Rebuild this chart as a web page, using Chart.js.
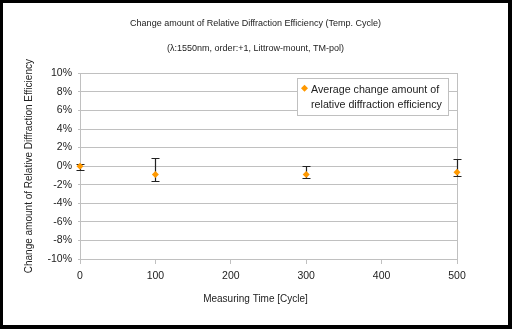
<!DOCTYPE html>
<html>
<head>
<meta charset="utf-8">
<script src="https://cdn.jsdelivr.net/npm/chart.js@4.4.1/dist/chart.umd.min.js"></script>
<style>
  html, body { margin: 0; padding: 0; background: #fff; }
  #frame { width: 505px; height: 322px; border-style: solid; border-color: #000; border-width: 3px 4px 4px 3px; }
  canvas { display: block; }
</style>
</head>
<body>
<div id="frame"><canvas id="cycle-chart" width="505" height="322"></canvas></div>
<script>
const fontFamily = "'Liberation Sans', Arial, sans-serif";
const textColor = '#222';
const gridColor = '#c0c0c0';
const markerColor = '#ff9900';

const titleLines = ['Change amount of Relative Diffraction Efficiency (Temp. Cycle)', '(\u03bb:1550nm, order:+1, Littrow-mount, TM-pol)'];
const xTitle = 'Measuring Time [Cycle]';
const yTitle = 'Change amount of Relative Diffraction Efficiency';
const legendLines = ['Average change amount of', 'relative diffraction efficiency'];

// measuring time in cycles, values in %
const cycles = [0, 100, 300, 500];
const avgChange = [0.0, -0.9, -0.9, -0.65];
const errTop = [0.2, 0.9, 0.0, 0.8];
const errBottom = [-0.4, -1.6, -1.3, -1.1];

// error bars go under the markers
const errorBars = {
  id: 'errorBars',
  beforeDatasetsDraw(chart) {
    const {ctx, scales: {x, y}} = chart;
    ctx.save();
    ctx.strokeStyle = '#222';
    ctx.lineWidth = 1.2;
    cycles.forEach((c, i) => {
      const px = Math.round(x.getPixelForValue(c)) + 0.5;
      const top = Math.round(y.getPixelForValue(errTop[i])) + 0.5;
      const bot = Math.round(y.getPixelForValue(errBottom[i])) + 0.5;
      ctx.beginPath();
      ctx.moveTo(px, top); ctx.lineTo(px, bot);
      ctx.moveTo(px - 4, top); ctx.lineTo(px + 4, top);
      ctx.moveTo(px - 4, bot); ctx.lineTo(px + 4, bot);
      ctx.stroke();
    });
    ctx.restore();
  }
};

// boxed legend inside the plot, top right
const boxLegend = {
  id: 'boxLegend',
  afterDraw(chart) {
    const {ctx, chartArea} = chart;
    const w = 151, h = 37;
    const left = Math.round(chartArea.right - 9 - w) + 0.5;
    const top = Math.round(chartArea.top + 5) + 0.5;
    ctx.save();
    ctx.fillStyle = '#fff';
    ctx.strokeStyle = gridColor;
    ctx.lineWidth = 1;
    ctx.fillRect(left, top, w, h);
    ctx.strokeRect(left, top, w, h);

    const mx = left + 7, my = top + 9.7, r = 3.5;
    ctx.fillStyle = markerColor;
    ctx.beginPath();
    ctx.moveTo(mx, my - r); ctx.lineTo(mx + r, my);
    ctx.lineTo(mx, my + r); ctx.lineTo(mx - r, my);
    ctx.closePath();
    ctx.fill();

    ctx.fillStyle = textColor;
    ctx.font = '10.7px ' + fontFamily;
    ctx.textBaseline = 'middle';
    ctx.textAlign = 'left';
    legendLines.forEach((line, i) => {
      ctx.fillText(line, left + 13.5, top + 12 + i * 14.5);
    });
    ctx.restore();
  }
};

const ctx = document.getElementById('cycle-chart').getContext('2d');
const cycleChart = new Chart(ctx, {
  type: 'scatter',
  data: {
    datasets: [{
      label: legendLines.join(' '),
      data: cycles.map((c, i) => ({x: c, y: avgChange[i]})),
      pointStyle: 'rectRot',
      pointRadius: 3.5,
      backgroundColor: markerColor,
      borderColor: markerColor,
      borderWidth: 0,
      clip: false
    }]
  },
  options: {
    responsive: false,
    animation: false,
    devicePixelRatio: 1,
    layout: { padding: 0 },
    plugins: {
      legend: { display: false },
      tooltip: { enabled: false },
      title: {
        display: true,
        text: titleLines,
        color: textColor,
        font: { family: fontFamily, size: 9, weight: 'normal', lineHeight: '25px' },
        padding: { top: 8.5, bottom: 11.8 }
      },
      subtitle: {
        display: true,
        position: 'bottom',
        text: xTitle,
        color: textColor,
        font: { family: fontFamily, size: 10 },
        padding: { top: 6.5, bottom: 19.5 }
      }
    },
    scales: {
      x: {
        type: 'linear',
        min: 0,
        max: 500,
        ticks: { stepSize: 100, color: textColor, padding: 6, font: { family: fontFamily, size: 10.5 } },
        grid: { drawOnChartArea: false, tickLength: 5, color: gridColor, tickColor: gridColor },
        border: { color: gridColor },
        afterFit(scale) { scale.height = 28; }
      },
      y: {
        min: -10,
        max: 10,
        ticks: {
          stepSize: 2,
          color: textColor,
          padding: 6,
          font: { family: fontFamily, size: 10.5 },
          callback: v => v + '%'
        },
        grid: { color: gridColor, tickLength: 2 },
        border: { color: gridColor },
        title: {
          display: true,
          text: yTitle,
          color: textColor,
          font: { family: fontFamily, size: 10 },
          padding: { top: 20, bottom: 0 }
        },
        afterFit(scale) { scale.width = 77; }
      },
      y2: {
        position: 'right',
        display: true,
        min: -10,
        max: 10,
        ticks: { display: false },
        grid: { drawOnChartArea: false, drawTicks: false },
        border: { color: gridColor },
        afterFit(scale) { scale.width = 51; }
      }
    }
  },
  plugins: [errorBars, boxLegend]
});
</script>
</body>
</html>
